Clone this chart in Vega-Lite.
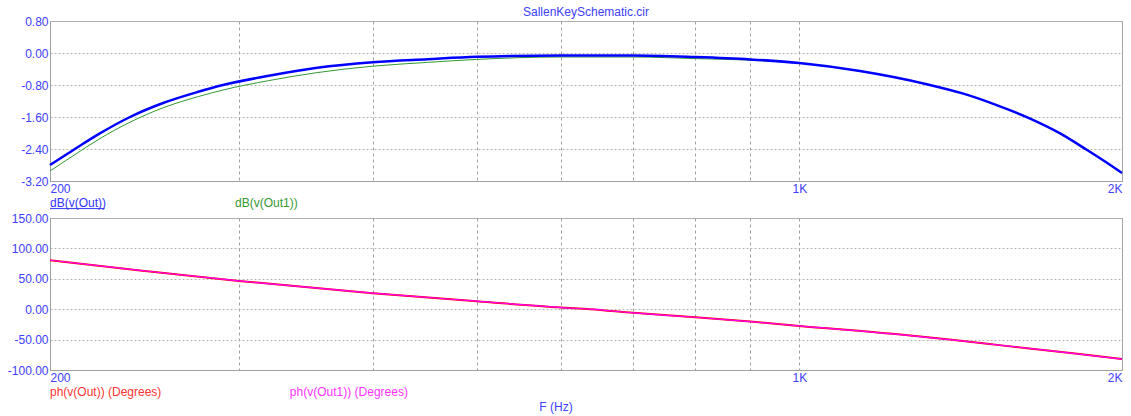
{
  "$schema": "https://vega.github.io/schema/vega-lite/v6.json",
  "background": "white",
  "padding": {"left": 6, "top": 5, "right": 5, "bottom": 0},
  "bounds": "flush",
  "spacing": 37,
  "config": {
    "font": "Liberation Sans",
    "view": {"stroke": "#a8a8a8", "strokeWidth": 1},
    "axis": {
      "labelFont": "Liberation Sans",
      "labelFontSize": 12,
      "labelColor": "#4040ff",
      "domainColor": "#a0a0a0",
      "gridColor": "#a8a8a8",
      "ticks": false,
      "labelOverlap": false,
      "tickCount": 30,
      "title": null
    },
    "text": {"font": "Liberation Sans", "fontSize": 12}
  },
  "datasets": {
    "out_db": [
      {"f": 200, "v": -2.80}, {"f": 211, "v": -2.40}, {"f": 222, "v": -2.03}, {"f": 237.5, "v": -1.60},
      {"f": 255, "v": -1.25}, {"f": 275, "v": -0.97}, {"f": 290, "v": -0.80}, {"f": 320, "v": -0.57},
      {"f": 355, "v": -0.37}, {"f": 400, "v": -0.23}, {"f": 450, "v": -0.155}, {"f": 500, "v": -0.095},
      {"f": 600, "v": -0.06}, {"f": 700, "v": -0.06}, {"f": 800, "v": -0.10}, {"f": 900, "v": -0.16},
      {"f": 1000, "v": -0.25}, {"f": 1139, "v": -0.45}, {"f": 1315, "v": -0.78}, {"f": 1420, "v": -1.01},
      {"f": 1517, "v": -1.27}, {"f": 1642, "v": -1.64}, {"f": 1751, "v": -2.01}, {"f": 1854, "v": -2.42},
      {"f": 1930, "v": -2.72}, {"f": 2000, "v": -3.0}
    ],
    "out1_db": [
      {"f": 200, "v": -2.95}, {"f": 211, "v": -2.54}, {"f": 222, "v": -2.16}, {"f": 237.5, "v": -1.73},
      {"f": 255, "v": -1.37}, {"f": 275, "v": -1.09}, {"f": 290, "v": -0.925}, {"f": 320, "v": -0.69},
      {"f": 355, "v": -0.49}, {"f": 400, "v": -0.33}, {"f": 450, "v": -0.235}, {"f": 500, "v": -0.16},
      {"f": 600, "v": -0.10}, {"f": 700, "v": -0.10}, {"f": 800, "v": -0.14}, {"f": 900, "v": -0.18},
      {"f": 1000, "v": -0.255}, {"f": 1139, "v": -0.455}, {"f": 1315, "v": -0.785}, {"f": 1420, "v": -1.015},
      {"f": 1517, "v": -1.275}, {"f": 1642, "v": -1.645}, {"f": 1751, "v": -2.015}, {"f": 1854, "v": -2.425},
      {"f": 1930, "v": -2.725}, {"f": 2000, "v": -3.005}
    ],
    "out_ph": [
      {"f": 200, "v": 80.5}, {"f": 245, "v": 63}, {"f": 300, "v": 46.5}, {"f": 400, "v": 26.4},
      {"f": 500, "v": 13.2}, {"f": 600, "v": 2.7}, {"f": 638, "v": 0}, {"f": 700, "v": -6},
      {"f": 800, "v": -13.2}, {"f": 900, "v": -20.3}, {"f": 1000, "v": -27.5}, {"f": 1243, "v": -41.8},
      {"f": 1388, "v": -50.3}, {"f": 1551, "v": -59.9}, {"f": 1800, "v": -72.6}, {"f": 2000, "v": -82}
    ],
    "out1_ph": [
      {"f": 200, "v": 80.5}, {"f": 245, "v": 63}, {"f": 300, "v": 46.5}, {"f": 400, "v": 26.4},
      {"f": 500, "v": 13.2}, {"f": 600, "v": 2.7}, {"f": 638, "v": 0}, {"f": 700, "v": -6},
      {"f": 800, "v": -13.2}, {"f": 900, "v": -20.3}, {"f": 1000, "v": -27.5}, {"f": 1243, "v": -41.8},
      {"f": 1388, "v": -50.3}, {"f": 1551, "v": -59.9}, {"f": 1800, "v": -72.6}, {"f": 2000, "v": -82}
    ]
  },
  "vconcat": [
    {
      "title": {"text": "SallenKeySchematic.cir", "color": "#4040ff", "fontSize": 12, "font": "Liberation Sans", "fontWeight": "normal", "offset": -4},
      "width": 1072,
      "height": 160,
      "layer": [
        {
          "data": {"name": "out1_db"},
          "mark": {"type": "line", "color": "#339933", "strokeWidth": 1, "interpolate": "monotone"},
          "encoding": {
            "x": {"field": "f", "type": "quantitative",
              "scale": {"type": "log", "domain": [200, 2000], "nice": false},
              "axis": {"values": [200, 300, 400, 500, 600, 700, 800, 900, 1000, 2000],
                "labelExpr": "datum.value == 200 ? '200' : datum.value == 1000 ? '1K' : datum.value == 2000 ? '2K' : ''",
                "labelFlush": true, "labelOverlap": false, "labelPadding": 2.5, "tickCount": 30,
                "grid": true, "gridDash": [3, 3], "gridColor": "#a0a0a0"}},
            "y": {"field": "v", "type": "quantitative",
              "scale": {"domain": [-3.2, 0.8], "nice": false, "zero": false},
              "axis": {"values": [-3.2, -2.4, -1.6, -0.8, 0, 0.8],
                "labelExpr": "replace(format(datum.value, '.2f'), '\u2212', '-')",
                "labelOverlap": false, "tickCount": 30,
                "labelPadding": 2, "grid": true, "gridDash": [2, 2], "gridColor": "#b4b4b4"}}
          }
        },
        {
          "data": {"name": "out_db"},
          "mark": {"type": "line", "color": "#0000ff", "strokeWidth": 2.5, "interpolate": "monotone"},
          "encoding": {
            "x": {"field": "f", "type": "quantitative"},
            "y": {"field": "v", "type": "quantitative"}
          }
        },
        {
          "data": {"values": [{}]},
          "mark": {"type": "text", "text": "dB(v(Out))", "align": "left", "baseline": "middle", "color": "#3333ff"},
          "encoding": {"x": {"datum": 200, "type": "quantitative"}, "y": {"datum": -3.76, "type": "quantitative"}}
        },
        {
          "data": {"values": [{}]},
          "mark": {"type": "rule", "color": "#3333ff", "strokeWidth": 1},
          "encoding": {"x": {"datum": 200, "type": "quantitative"}, "x2": {"datum": 224.8}, "y": {"datum": -3.89, "type": "quantitative"}}
        },
        {
          "data": {"values": [{}]},
          "mark": {"type": "text", "text": "dB(v(Out1))", "align": "left", "baseline": "middle", "color": "#339933"},
          "encoding": {"x": {"datum": 297.6, "type": "quantitative"}, "y": {"datum": -3.76, "type": "quantitative"}}
        }
      ]
    },
    {
      "width": 1072,
      "height": 152,
      "layer": [
        {
          "data": {"name": "out_ph"},
          "mark": {"type": "line", "color": "#ff0000", "strokeWidth": 2, "interpolate": "monotone"},
          "encoding": {
            "x": {"field": "f", "type": "quantitative",
              "scale": {"type": "log", "domain": [200, 2000], "nice": false},
              "axis": {"values": [200, 300, 400, 500, 600, 700, 800, 900, 1000, 2000],
                "labelExpr": "datum.value == 200 ? '200' : datum.value == 1000 ? '1K' : datum.value == 2000 ? '2K' : ''",
                "labelFlush": true, "labelOverlap": false, "labelPadding": 2.5, "tickCount": 30,
                "grid": true, "gridDash": [3, 3], "gridColor": "#a0a0a0"}},
            "y": {"field": "v", "type": "quantitative",
              "scale": {"domain": [-100, 150], "nice": false, "zero": false},
              "axis": {"values": [-100, -50, 0, 50, 100, 150],
                "labelExpr": "replace(format(datum.value, '.2f'), '\u2212', '-')",
                "labelOverlap": false, "tickCount": 30,
                "labelPadding": 2, "grid": true, "gridDash": [2, 2], "gridColor": "#b4b4b4"}}
          }
        },
        {
          "data": {"name": "out1_ph"},
          "mark": {"type": "line", "color": "#ff00ff", "strokeWidth": 1.2, "interpolate": "monotone"},
          "encoding": {
            "x": {"field": "f", "type": "quantitative"},
            "y": {"field": "v", "type": "quantitative"}
          }
        },
        {
          "data": {"values": [{}]},
          "mark": {"type": "text", "text": "ph(v(Out)) (Degrees)", "align": "left", "baseline": "middle", "color": "#ff3333"},
          "encoding": {"x": {"datum": 200, "type": "quantitative"}, "y": {"datum": -136.7, "type": "quantitative"}}
        },
        {
          "data": {"values": [{}]},
          "mark": {"type": "text", "text": "ph(v(Out1)) (Degrees)", "align": "left", "baseline": "middle", "color": "#ff33ff"},
          "encoding": {"x": {"datum": 334.8, "type": "quantitative"}, "y": {"datum": -136.7, "type": "quantitative"}}
        },
        {
          "data": {"values": [{}]},
          "mark": {"type": "text", "text": "F (Hz)", "align": "center", "baseline": "middle", "color": "#4040ff"},
          "encoding": {"x": {"datum": 593, "type": "quantitative"}, "y": {"datum": -160.9, "type": "quantitative"}}
        }
      ]
    }
  ]
}
